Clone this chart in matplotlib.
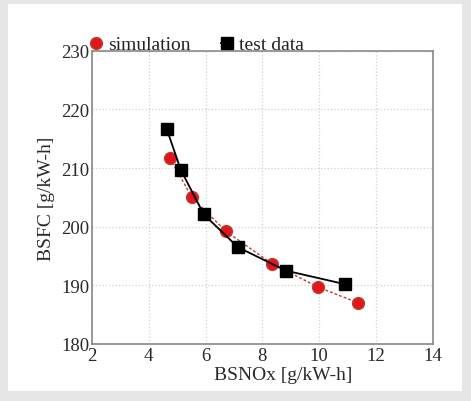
import matplotlib.pyplot as plt
from matplotlib.patches import Rectangle

# simulation results
sim_nox = [4.75, 5.52, 6.72, 8.34, 9.96, 11.37]
sim_bsfc = [211.7, 205.0, 199.2, 193.7, 189.7, 187.0]

# engine test data
test_nox = [4.64, 5.13, 5.94, 7.14, 8.83, 10.9]
test_bsfc = [216.6, 209.7, 202.1, 196.5, 192.5, 190.2]

x_ticks = [2, 4, 6, 8, 10, 12, 14]
y_ticks = [180, 190, 200, 210, 220, 230]

plt.rcParams['font.family'] = ['Liberation Serif', 'DejaVu Serif']

fig = plt.figure(figsize=(4.71, 4.02), dpi=100)
fig.patch.set_facecolor('#e6e6e6')
# white inner panel
fig.patches.append(Rectangle((8 / 471, 10 / 402), 454 / 471, 387 / 402,
                             transform=fig.transFigure, facecolor='white',
                             edgecolor='none', zorder=-10))

ax = fig.add_axes([0.195, 0.142, 0.724, 0.729])
ax.set_facecolor('white')

ax.plot(sim_nox, sim_bsfc, color='#c0392b', linestyle=(0, (2, 1.5)), linewidth=1.0,
        marker='o', markersize=8.5, markerfacecolor='#e0161c', markeredgecolor='#c0392b',
        label='simulation', zorder=3)
ax.plot(test_nox, test_bsfc, color='black', linestyle='-', linewidth=1.3,
        marker='s', markersize=9, markerfacecolor='black', markeredgecolor='black',
        label='test data', zorder=4)

ax.set_xlim(2, 14)
ax.set_ylim(180, 230)
ax.set_xticks(x_ticks)
ax.set_yticks(y_ticks)
ax.tick_params(labelsize=13.5, length=0, colors='#2a2a2a', pad=2)
ax.grid(True, color='#d8cccc', linestyle=':', linewidth=0.9)

for s in ax.spines.values():
    s.set_color('#888888')
    s.set_linewidth(1.2)

ax.set_xlabel('BSNOx [g/kW-h]', fontsize=14, color='#2a2a2a')
ax.xaxis.set_label_coords(0.56, -0.075)
ax.set_ylabel('BSFC [g/kW-h]', fontsize=14, color='#2a2a2a', labelpad=4)

ax.legend(loc='lower left', bbox_to_anchor=(-0.01, 0.985), ncol=2, frameon=False,
          fontsize=14, handlelength=0.6, handletextpad=0.3, columnspacing=1.6,
          borderaxespad=0, borderpad=0.1, labelcolor='#222222')

fig.savefig('out.png', dpi=100, facecolor=fig.get_facecolor())
